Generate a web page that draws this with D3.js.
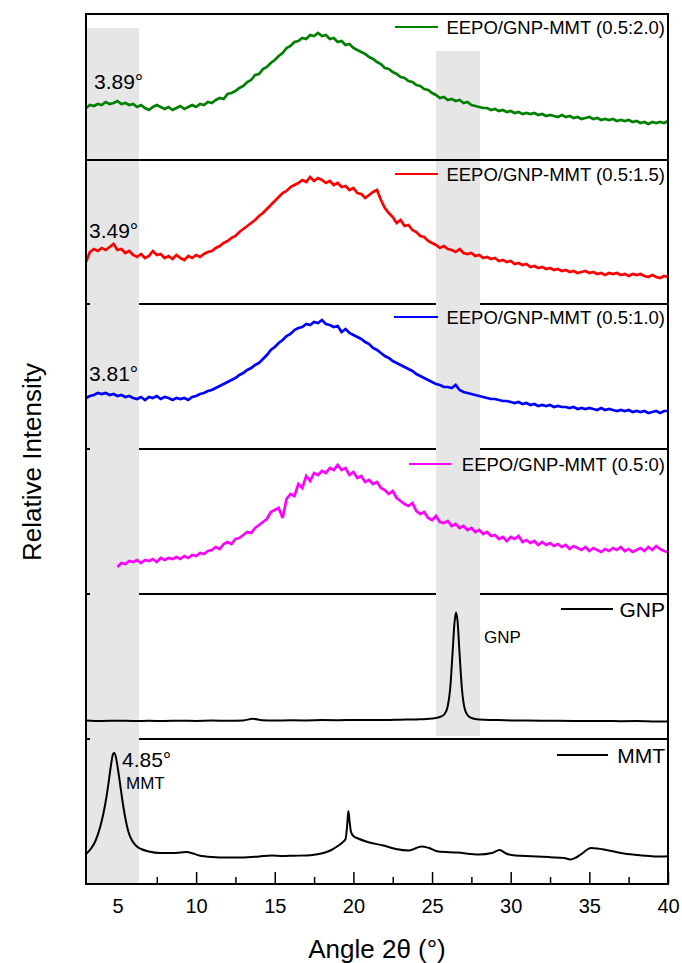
<!DOCTYPE html>
<html><head><meta charset="utf-8">
<script src="https://cdn.jsdelivr.net/npm/d3@7"></script>
<style>body{margin:0;background:#fff}svg{display:block}</style>
</head><body>
<svg id="c" width="682" height="963"></svg>
<script>
// ---------- DATA ----------
// sampling grid for the four composite scans: 3.00° .. 40.00° every 0.25°
const gridStart = 3, gridEnd = 40, gridStep = 0.25;

// EEPO/GNP-MMT (0.5:2.0)  (one row per degree, 4 samples each)
const green = [
 52,55,54,56, 55,58,56,57, 59,56,57,55, 56,53,55,52, 50,53,55,53,
 51,53,50,52, 54,51,53,55, 53,56,55,58, 57,60,62,61, 66,67,69,72,
 74,78,80,85, 86,91,93,97, 100,104,107,112, 114,118,119,122, 121,125,124,127,
 124,125,121,122, 118,119,115,116, 112,110,108,106, 103,101,98,96, 92,91,88,86,
 83,82,79,78, 75,74,71,70, 67,65,62,63, 60,61,59,60, 57,58,55,54,
 53,52,52,50, 51,49,50,48, 49,47,48,46, 47,46,47,45, 46,44,45,44,
 43,45,43,44, 42,43,41,42, 43,41,42,40, 41,40,41,39, 40,39,40,38,
 39,37,38,36, 38,37,38,37, 39];

// EEPO/GNP-MMT (0.5:1.5)
const red = [
 42,52,55,53, 56,54,57,60, 54,55,51,53, 49,47,50,46, 48,53,49,50,
 46,48,45,49, 46,44,48,46, 49,47,50,52, 53,56,58,61, 63,66,68,72,
 75,78,81,84, 88,91,95,99, 103,107,111,113, 117,119,121,124, 122,127,123,126,
 124,121,123,119, 121,117,118,114, 116,111,110,106, 109,112,114,104, 96,91,87,81,
 84,78,79,74, 72,68,67,63, 61,59,56,58, 55,54,52,55, 51,50,51,48,
 49,46,47,45, 46,43,44,42, 43,40,41,39, 40,37,38,36, 37,35,36,34,
 35,33,34,32, 33,31,32,33, 31,32,30,31, 29,31,30,31, 29,30,28,30,
 29,30,28,27, 29,27,26,28, 27];

// EEPO/GNP-MMT (0.5:1.0)
const blue = [
 51,53,54,56, 55,56,54,55, 53,54,52,53, 51,50,52,49, 52,51,53,50,
 52,51,49,51, 50,51,49,52, 53,55,56,58, 59,61,63,65, 67,69,71,74,
 76,79,81,84, 86,90,94,99, 102,106,109,113, 115,119,121,122, 125,124,127,126,
 129,125,124,122, 123,117,120,116, 114,112,110,107, 105,101,99,96, 93,91,88,86,
 84,82,80,78, 75,73,71,69, 67,65,64,62, 62,61,64,59, 57,56,55,54,
 53,52,51,50, 50,49,48,48, 47,46,47,45, 46,44,45,43, 44,43,44,42,
 43,42,42,41, 42,40,41,40, 41,40,39,41, 39,40,39,38, 39,38,39,37,
 38,37,38,36, 37,38,36,38, 38];

// EEPO/GNP-MMT (0.5:0)  (scan starts at 5°)
const magenta = [
 null,null,null,null, null,null,null,null, 27,31,30,33, 32,34,31,34, 33,35,32,36,
 34,36,35,37, 35,38,36,39, 38,41,40,43, 44,47,45,50, 52,50,55,56,
 59,62,61,66, 69,72,75,82, 84,86,76,95, 100,98,110,106, 118,113,121,119,
 123,121,126,124, 129,124,126,119, 122,116,118,112, 114,110,112,106, 104,100,103,96,
 93,90,88,91, 83,80,82,76, 74,78,72,71, 73,68,70,66, 68,64,66,62,
 64,60,62,58, 59,55,57,53, 57,55,58,52, 54,51,53,49, 52,49,51,48,
 50,47,49,45, 48,46,44,47, 43,46,44,42, 45,43,46,44, 47,43,45,42,
 44,46,43,47, 44,48,45,43, 42];

// GNP
const gnpAngles = [3,4,5,6,7,8,9,10,11,12,13,13.6,14.2,15,16,17,18,19,20,21,22,23,24,25,25.5,25.8,26.0,26.15,26.3,26.42,26.52,26.62,26.75,26.9,27.05,27.25,27.5,28,29,30,31,32,33,34,35,36,37,38,39,40];
const gnpValues = [18.5,18,18.3,18,18.2,18,18.3,18.1,18.4,18.2,18.6,20.2,18.8,18.5,18.7,18.6,18.9,18.8,19,19.1,19,19.3,19.6,20.5,22,25,33,50,85,115,126.5,118,85,50,32,24,21,19.5,19,18.6,18.5,18.3,18.2,18.1,18,18.1,17.8,17.9,17.6,17.5];

// MMT
const mmtAngles = [3.0,3.3,3.6,3.9,4.1,4.3,4.45,4.6,4.72,4.8,4.9,5.0,5.15,5.3,5.5,5.7,5.95,6.2,6.5,7.0,7.7,8.5,9.0,9.4,9.8,10.2,11.0,12.0,13.0,14.0,14.8,15.5,16.2,17.0,17.6,18.2,18.6,19.0,19.3,19.5,19.6,19.68,19.76,19.85,20.0,20.3,20.9,21.9,22.7,23.5,24.0,24.35,24.8,25.4,26.6,28.0,28.8,29.3,29.7,30.3,31.3,32.5,33.4,33.8,34.1,34.5,35.1,35.5,36.0,37.2,38.4,39.2,40.0];
const mmtValues = [30,35,43,57,70,87,103,120,130,131,127,118,102,85,66,52,43,38,35,32.5,31,31,31.5,32,30.5,28.5,27,26.5,26.5,27.5,28.5,28,28.3,28.5,29.5,31.5,34,38,41.5,45,58,73,62,52,48,45.5,42,38.5,35,33.5,36,37.5,36,32.5,31.5,29.5,31,34,30.5,28.5,27.8,26.8,26,24.5,26,30,36,35.5,34.3,30.5,28.5,27.5,27.8];

const seriesNames = ["EEPO/GNP-MMT (0.5:2.0)","EEPO/GNP-MMT (0.5:1.5)","EEPO/GNP-MMT (0.5:1.0)","EEPO/GNP-MMT (0.5:0)","GNP","MMT"];
const xTicks = [5,10,15,20,25,30,35,40];
const xMinorTicks = [7.5,12.5,17.5,22.5,27.5,32.5,37.5];
const bandRanges = [[3,6.37],[25.25,28.05]];
const peakLabels = ["3.89°","3.49°","3.81°","4.85°"];

// ---------- LAYOUT ----------
const L=86, R=668, T=14, B=884;
const panelTops=[14,160,304,449,594,739];
const FONT="'Liberation Sans', Arial, Helvetica, sans-serif";
const svg=d3.select("#c");
const x=d3.scaleLinear().domain([3,40]).range([L,R]);
const pBottom=i=> i<5 ? panelTops[i+1] : B;
const yOf=i=> d3.scaleLinear().domain([0,145]).range([pBottom(i), pBottom(i)-145]);

const grid=d3.range(gridStart, gridEnd+gridStep/2, gridStep);
const gridSeries=[green,red,blue,magenta].map(v=>grid.map((a,i)=>[a,v[i]]));
const gnp=gnpAngles.map((a,i)=>[a,gnpValues[i]]);
const mmt=mmtAngles.map((a,i)=>[a,mmtValues[i]]);
const panels=[
 {data:gridSeries[0],color:"#008000",w:2.7,curve:d3.curveLinear},
 {data:gridSeries[1],color:"#ff0000",w:2.7,curve:d3.curveLinear},
 {data:gridSeries[2],color:"#0000ff",w:2.7,curve:d3.curveLinear},
 {data:gridSeries[3],color:"#ff00ff",w:2.7,curve:d3.curveLinear},
 {data:gnp,color:"#000",w:2,curve:d3.curveMonotoneX},
 {data:mmt,color:"#000",w:2,curve:d3.curveMonotoneX}
];

// separators (under the grey bands)
[2,3,4,5].forEach(i=>{
  svg.append("line").attr("x1",L).attr("x2",R).attr("y1",panelTops[i]).attr("y2",panelTops[i])
    .attr("stroke","#000").attr("stroke-width",2);
});

// bottom axis ticks
const axMaj=d3.axisBottom(x).tickValues(xTicks).tickSize(-12).tickPadding(15).tickFormat(d3.format("d"));
const gA=svg.append("g").attr("transform",`translate(0,${B})`).call(axMaj);
gA.select(".domain").remove();
gA.selectAll("line").attr("stroke","#000").attr("stroke-width",1.5);
gA.selectAll("text").attr("font-family",FONT).attr("font-size",20).attr("fill","#000");
const axMin=d3.axisBottom(x).tickValues(xMinorTicks).tickSize(-7).tickFormat("");
const gM=svg.append("g").attr("transform",`translate(0,${B})`).call(axMin);
gM.select(".domain").remove();
gM.selectAll("line").attr("stroke","#000").attr("stroke-width",1.5);

// grey bands
const bandTops=[28,51], bandBottoms=[B,736];
bandRanges.forEach((r,k)=>{
  svg.append("rect").attr("x",x(r[0])).attr("width",x(r[1])-x(r[0]))
    .attr("y",bandTops[k]).attr("height",bandBottoms[k]-bandTops[k]).attr("fill","#e6e6e6");
});

// small left ticks
[2,3,4,5].forEach(i=>{
  svg.append("line").attr("x1",L).attr("x2",L+4).attr("y1",panelTops[i]).attr("y2",panelTops[i])
    .attr("stroke","#000").attr("stroke-width",2);
});
// first separator (over bands)
svg.append("line").attr("x1",L).attr("x2",R).attr("y1",panelTops[1]).attr("y2",panelTops[1])
  .attr("stroke","#000").attr("stroke-width",2);

// curves
panels.forEach((p,i)=>{
  const y=yOf(i);
  const line=d3.line().defined(d=>d[1]!=null).x(d=>x(d[0])).y(d=>y(d[1])).curve(p.curve);
  svg.append("path").datum(p.data).attr("d",line).attr("fill","none")
    .attr("stroke",p.color).attr("stroke-width",p.w).attr("stroke-linejoin","miter").attr("stroke-miterlimit",3);
});

// frame
svg.append("rect").attr("x",L).attr("y",T).attr("width",R-L).attr("height",B-T)
  .attr("fill","none").attr("stroke","#000").attr("stroke-width",2);

// legends
const legends=[
 {i:0,x1:395,x2:438,fs:18.5,dy:20},
 {i:1,x1:395,x2:438,fs:18.5,dy:21},
 {i:2,x1:394,x2:438,fs:18.5,dy:20},
 {i:3,x1:409,x2:451,fs:18.5,dy:22},
 {i:4,x1:561,x2:613,fs:21,dy:23},
 {i:5,x1:557,x2:608,fs:21,dy:24}
];
legends.forEach(l=>{
  const base=panelTops[l.i]+l.dy;
  svg.append("line").attr("x1",l.x1).attr("x2",l.x2)
    .attr("y1",base-l.fs*0.38).attr("y2",base-l.fs*0.38)
    .attr("stroke",panels[l.i].color).attr("stroke-width",2);
  svg.append("text").attr("x",665).attr("y",base).attr("text-anchor","end")
    .attr("font-family",FONT).attr("font-size",l.fs).attr("fill","#000").text(seriesNames[l.i]);
});

// peak annotations
const ann=[
 {t:peakLabels[0],x:94,y:89,fs:21},
 {t:peakLabels[1],x:89,y:238,fs:21},
 {t:peakLabels[2],x:89,y:381,fs:21},
 {t:peakLabels[3],x:122,y:767,fs:21},
 {t:"MMT",x:126,y:789,fs:17},
 {t:"GNP",x:484,y:643,fs:17}
];
ann.forEach(a=>{
  svg.append("text").attr("x",a.x).attr("y",a.y).attr("font-family",FONT)
    .attr("font-size",a.fs).attr("fill","#000").text(a.t);
});

// axis titles
svg.append("text").attr("x",(L+R)/2).attr("y",958).attr("text-anchor","middle")
  .attr("font-family",FONT).attr("font-size",26).attr("fill","#000").text("Angle 2θ (°)");
svg.append("text").attr("transform","translate(41,462) rotate(-90)").attr("text-anchor","middle")
  .attr("font-family",FONT).attr("font-size",26).attr("fill","#000").text("Relative Intensity");
</script>
</body></html>
